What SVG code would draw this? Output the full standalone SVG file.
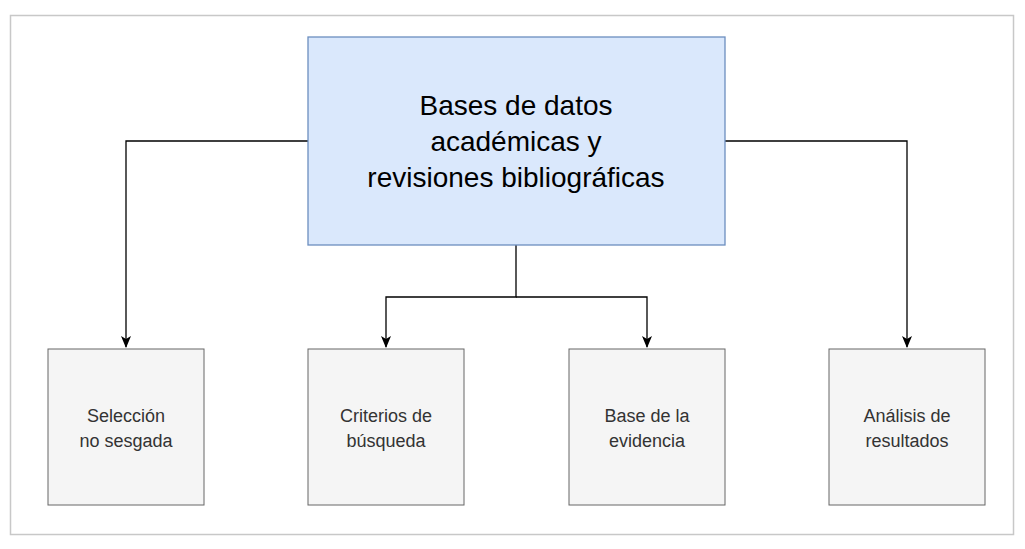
<svg xmlns="http://www.w3.org/2000/svg" width="1025" height="549" viewBox="0 0 1025 549">
<defs>
<marker id="ah" markerWidth="10" markerHeight="10" refX="5" refY="9" orient="auto" markerUnits="userSpaceOnUse" viewBox="0 0 10 10">
<path d="M0,0 L5,10 L10,0 L5,3 Z" fill="#000" transform="rotate(-90 5 5)"/>
</marker>
<style>
.box{fill:#f5f5f5;stroke:#666;stroke-width:1}
.t{font-family:"Liberation Sans",Arial,sans-serif;font-size:18px;fill:#333;text-anchor:middle}
.c{fill:none;stroke:#000;stroke-width:1.3}
</style>
</defs>
<rect x="0" y="0" width="1025" height="549" fill="#fff"/>
<rect x="10.5" y="15.5" width="1003" height="519" fill="#fff" stroke="#c8c8c8" stroke-width="1.5"/>
<g id="connectors">
<path class="c" d="M308,141 H126 V347"/>
<path class="c" d="M725,141 H907 V347"/>
<path class="c" d="M516,245 V297 H386 V347"/>
<path class="c" d="M516,297 H647 V347"/>
<path d="M121,336 L126,348 L131,336 L126,339 Z M902,336 L907,348 L912,336 L907,339 Z M381,336 L386,348 L391,336 L386,339 Z M642,336 L647,348 L652,336 L647,339 Z" fill="#000"/>
</g>
<g id="top">
<rect x="308" y="37" width="417" height="208" fill="#dae8fc" stroke="#6c8ebf" stroke-width="1.3"/>
<text x="516" y="115" font-family="'Liberation Sans',Arial,sans-serif" font-size="28" text-anchor="middle" fill="#000">Bases de datos</text>
<text x="516" y="151" font-family="'Liberation Sans',Arial,sans-serif" font-size="28" text-anchor="middle" fill="#000">académicas y</text>
<text x="516" y="187" font-family="'Liberation Sans',Arial,sans-serif" font-size="28" text-anchor="middle" fill="#000">revisiones bibliográficas</text>
</g>
<g id="n1"><rect class="box" x="48" y="349" width="156" height="156"/><text class="t" x="126" y="422">Selección</text><text class="t" x="126" y="447">no sesgada</text></g>
<g id="n2"><rect class="box" x="308" y="349" width="156" height="156"/><text class="t" x="386" y="422">Criterios de</text><text class="t" x="386" y="447">búsqueda</text></g>
<g id="n3"><rect class="box" x="569" y="349" width="156" height="156"/><text class="t" x="647" y="422">Base de la</text><text class="t" x="647" y="447">evidencia</text></g>
<g id="n4"><rect class="box" x="829" y="349" width="156" height="156"/><text class="t" x="907" y="422">Análisis de</text><text class="t" x="907" y="447">resultados</text></g>
</svg>
